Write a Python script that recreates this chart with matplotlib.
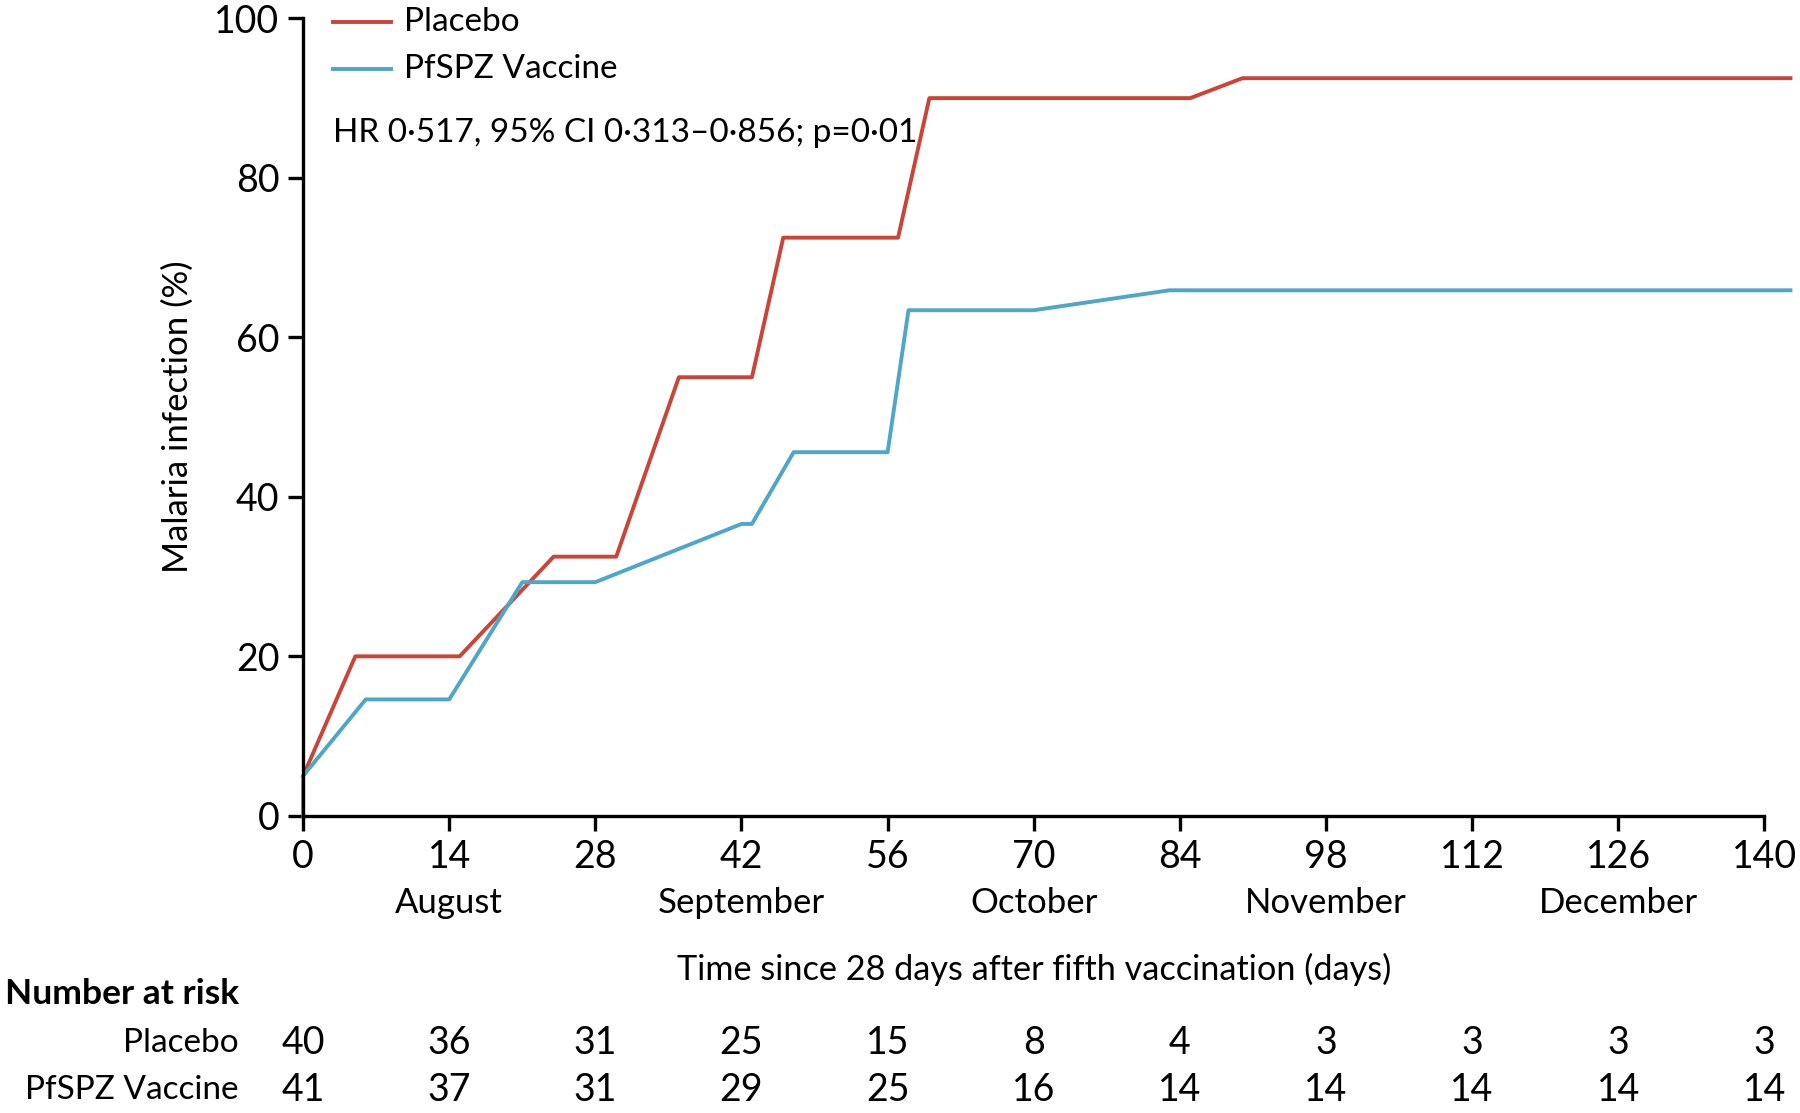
import numpy as np
import matplotlib
matplotlib.use("Agg")
import matplotlib.pyplot as plt
import matplotlib.transforms as mtransforms

plt.rcParams['font.family'] = ['Lato', 'DejaVu Sans']

# data
placebo_days = [0, 5, 15, 24, 30, 36, 43, 46, 57, 60, 85, 90, 142.5]
placebo_pct = [5, 20, 20, 32.5, 32.5, 55, 55, 72.5, 72.5, 90, 90, 92.5, 92.5]
vaccine_days = [0, 0, 6, 14, 21, 28, 42, 43, 47, 56, 58, 70, 83, 142.5]
vaccine_pct = [0, 5, 14.6, 14.6, 29.3, 29.3, 36.6, 36.6, 45.6, 45.6, 63.4, 63.4, 65.9, 65.9]

ticks_days = np.arange(0, 141, 14)
months = ["August", "September", "October", "November", "December"]
month_days = [14, 42, 70, 98, 126]
risk_placebo = [40, 36, 31, 25, 15, 8, 4, 3, 3, 3, 3]
risk_vaccine = [41, 37, 31, 29, 25, 16, 14, 14, 14, 14, 14]

red = "#cc4437"
blue = "#4ea6c8"
fs = 27      # numbers
fw = 24      # words

fig = plt.figure(figsize=(18, 11.13), dpi=100)
ax = fig.add_axes([0.1684, 0.267, 0.8263, 0.7165])

ax.plot(placebo_days, placebo_pct, color=red, lw=2.8, clip_on=False)
ax.plot(vaccine_days, vaccine_pct, color=blue, lw=2.8, clip_on=False)

ax.set_xlim(0, 142.5)
ax.set_ylim(0, 100)
for s in ["top", "right"]:
    ax.spines[s].set_visible(False)
ax.spines["left"].set_linewidth(2.4)
ax.spines["bottom"].set_linewidth(2.4)
ax.spines["bottom"].set_bounds(0, 140)
ax.set_xticks(ticks_days)
ax.set_yticks(np.arange(0, 101, 20))
ax.tick_params(axis="both", length=11, width=2.4, labelsize=fs, pad=6)

# legend drawn by hand
ax.plot([2.9, 8.4], [99.6, 99.6], color=red, lw=2.8, clip_on=False)
ax.plot([2.9, 8.4], [93.7, 93.7], color=blue, lw=2.8, clip_on=False)
ax.text(9.7, 99.6, "Placebo", fontsize=fw, va="center", ha="left")
ax.text(9.7, 93.7, "PfSPZ Vaccine", fontsize=fw, va="center", ha="left")
ax.text(2.9, 85.6, "HR 0·517, 95% CI 0·313–0·856; p=0·01", fontsize=fw, va="center", ha="left")

ax.set_ylabel("Malaria infection (%)", fontsize=25)
ax.yaxis.set_label_coords(-0.0735, 0.5)

trans = mtransforms.blended_transform_factory(ax.transData, fig.transFigure)
for m, d in zip(months, month_days):
    ax.text(d, 0.189, m, transform=trans, fontsize=25, ha="center", va="center")
ax.text(70, 0.129, "Time since 28 days after fifth vaccination (days)", transform=trans,
        fontsize=24.7, ha="center", va="center")

fig.text(0.003, 0.107, "Number at risk", fontsize=25.5, fontweight="bold", ha="left", va="center")
fig.text(0.1327, 0.063, "Placebo", fontsize=fw, ha="right", va="center")
fig.text(0.1327, 0.021, "PfSPZ Vaccine", fontsize=fw, ha="right", va="center")
for d, a, b in zip(ticks_days, risk_placebo, risk_vaccine):
    ax.text(d, 0.063, str(a), transform=trans, fontsize=fs, ha="center", va="center")
    ax.text(d, 0.021, str(b), transform=trans, fontsize=fs, ha="center", va="center")

fig.savefig("out.png", dpi=100)
